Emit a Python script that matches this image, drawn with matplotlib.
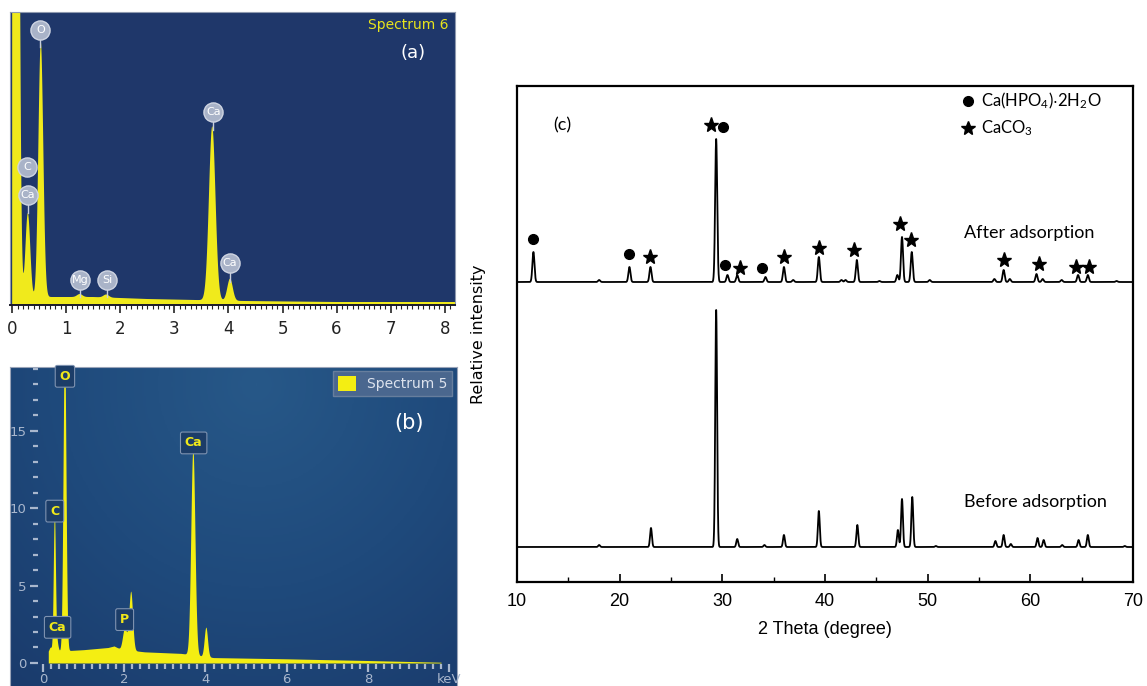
import numpy as np
import matplotlib
import matplotlib.pyplot as plt
from matplotlib.patches import Patch
from matplotlib.colors import LinearSegmentedColormap

matplotlib.use("Agg")

W, H = 1147, 686

# -----------------------------
# (a) EDS, Spectrum 6
# -----------------------------
a_peak_kev = [0.07, 0.29, 0.53, 1.25, 1.74, 3.70, 4.03]
a_peak_cnt = [1400, 88, 256, 3, 3, 174, 22]
a_peak_sig = [0.045, 0.045, 0.045, 0.05, 0.05, 0.06, 0.05]
a_bg_kev = [0.0, 0.6, 1.5, 2.5, 3.4, 4.3, 6.0, 8.2]
a_bg_cnt = [0, 8, 8, 6, 5, 4, 3, 3]
a_lbl_text = ["O", "C", "Ca", "Mg", "Si", "Ca", "Ca"]
a_lbl_kev = [0.52, 0.28, 0.29, 1.26, 1.76, 3.72, 4.02]
a_lbl_y = [275, 138, 110, 25, 25, 193, 42]
a_lbl_stem = [258, 138, 92, 8, 8, 175, 23]

# -----------------------------
# (b) EDS, Spectrum 5
# -----------------------------
b_peak_kev = [0.18, 0.28, 0.34, 0.53, 2.01, 2.16, 3.69, 4.01]
b_peak_cnt = [0.3, 8.9, 0.6, 20.0, 1.4, 3.8, 13.3, 1.9]
b_peak_sig = [0.03, 0.026, 0.03, 0.035, 0.05, 0.045, 0.05, 0.04]
b_bg_kev = [0.13, 0.2, 0.6, 1.0, 1.6, 1.75, 1.9, 2.5, 3.4, 4.2, 6.0, 8.0, 9.8]
b_bg_cnt = [0.7, 0.72, 0.8, 0.86, 1.0, 1.1, 0.9, 0.72, 0.62, 0.35, 0.27, 0.16, 0.05]
b_lbl_text = ["O", "C", "Ca", "P", "Ca"]
b_lbl_kev = [0.54, 0.29, 0.36, 2.01, 3.71]
b_lbl_y = [18.5, 9.8, 2.3, 2.8, 14.2]

# -----------------------------
# (c) XRD
# -----------------------------
after_pos = [11.6, 18.0, 20.95, 23.0, 29.4, 30.5, 31.45, 34.2, 36.0, 36.9, 39.4,
             41.6, 42.0, 43.1, 45.3, 47.05, 47.5, 48.45, 50.2, 56.5, 57.4, 58.0,
             60.6, 61.2, 63.05, 64.65, 65.6, 68.4]
after_int = [30, 2, 15, 15, 143, 7, 7, 5, 15, 2, 25,
             2, 2, 22, 1, 7, 45, 30, 2, 3, 12, 3,
             8, 3, 2, 7, 7, 1]
before_pos = [18.0, 23.05, 29.4, 31.45, 34.1, 36.0, 39.4, 43.15, 47.1, 47.5, 48.5,
              50.8, 56.6, 57.4, 58.1, 60.7, 61.3, 63.1, 64.7, 65.6, 69.2]
before_int = [2, 19, 237, 8, 2, 12, 36, 22, 17, 48, 50,
              1, 6, 12, 3, 9, 7, 2, 7, 12, 1]
after_offset = 300
before_offset = 35

circle_pos = [11.6, 20.95, 30.1, 30.3, 33.9]
circle_y = [343, 328, 455, 317, 314]
star_pos = [22.97, 28.86, 31.7, 36.0, 39.4, 42.8, 47.35, 48.4, 57.45, 60.86, 64.4, 65.7]
star_y = [325, 457, 314, 325, 334, 332, 358, 342, 322, 318, 315, 315]


def box(left, top, right, bottom):
    return [left / W, 1 - bottom / H, (right - left) / W, (bottom - top) / H]


def spectrum(x, pos, hgt, sig):
    y = np.zeros_like(x)
    for p, h, s in zip(pos, hgt, sig):
        y += h * np.exp(-0.5 * ((x - p) / s) ** 2)
    return y


fig = plt.figure(figsize=(W / 100, H / 100), dpi=100)

# ---------- panel (a) ----------
ax_a = fig.add_axes(box(10, 12, 455, 305))
ax_a.set_facecolor("#1f376a")
kev_a = np.linspace(0, 8.2, 3000)
cnt_a = np.interp(kev_a, a_bg_kev, a_bg_cnt) + spectrum(kev_a, a_peak_kev, a_peak_cnt, a_peak_sig)
ax_a.fill_between(kev_a, 0, cnt_a, color="#f0ea1c", lw=0)
ax_a.set_xlim(-0.04, 8.19)
ax_a.set_ylim(0, 293)
ax_a.set_xticks(range(0, 9))
ax_a.set_xticks(np.arange(0, 8.2, 0.1), minor=True)
ax_a.set_yticks([])
ax_a.tick_params(axis="x", which="major", direction="out", length=6, width=1.2,
                 labelsize=12, pad=5, colors="#222222")
ax_a.tick_params(axis="x", which="minor", direction="out", length=3, width=0.8, colors="#222222")
for s in ["top", "right", "left"]:
    ax_a.spines[s].set_color("#8f9ab0")
    ax_a.spines[s].set_linewidth(0.8)
ax_a.spines["bottom"].set_color("#1a1a2a")
ax_a.spines["bottom"].set_linewidth(1.4)
for t, x, y, st in zip(a_lbl_text, a_lbl_kev, a_lbl_y, a_lbl_stem):
    ax_a.plot([x, x], [st, y], color="#c8cfdc", lw=1, zorder=3)
    ax_a.scatter([x], [y], s=190, color="#a9b3c8", edgecolors="#cfd5e2", lw=1, zorder=4)
    ax_a.text(x, y, t, color="white", fontsize=8, ha="center", va="center", zorder=5)
ax_a.text(0.985, 0.955, "Spectrum 6", transform=ax_a.transAxes, color="#e8e41c",
          fontsize=10, ha="right", va="center", family=["Liberation Sans Narrow", "DejaVu Sans"])
ax_a.text(0.905, 0.86, "(a)", transform=ax_a.transAxes, color="white",
          fontsize=13, ha="center", va="center")

# ---------- panel (b) ----------
ax_bg = fig.add_axes(box(10, 367, 457, 700))
gx, gy = np.meshgrid(np.linspace(0, 1, 300), np.linspace(0, 1, 220))
dist = np.sqrt(((gx - 0.55) * 1.4) ** 2 + (gy - 0.05) ** 2)
cmap = LinearSegmentedColormap.from_list("eds", ["#275888", "#1f4a7c", "#1a3a6b"])
ax_bg.imshow(dist, cmap=cmap, aspect="auto", extent=[0, 1, 0, 1], origin="upper")
ax_bg.set_xticks([])
ax_bg.set_yticks([])
for s in ax_bg.spines.values():
    s.set_color("#9aa4b8")
    s.set_linewidth(0.8)

ax_b = fig.add_axes(box(38, 367, 452, 664))
ax_b.set_facecolor("none")
kev_b = np.linspace(0.13, 9.8, 3000)
cnt_b = np.interp(kev_b, b_bg_kev, b_bg_cnt) + spectrum(kev_b, b_peak_kev, b_peak_cnt, b_peak_sig)
ax_b.fill_between(kev_b, 0, cnt_b, color="#f4ee12", lw=0)
ax_b.set_xlim(-0.123, 10.07)
ax_b.set_ylim(-0.065, 19.1)
for s in ax_b.spines.values():
    s.set_visible(False)
ax_b.set_xticks(range(0, 11, 2), ["0", "2", "4", "6", "8", "keV"])
ax_b.set_xticks(np.arange(0, 10.01, 0.2), minor=True)
ax_b.set_yticks([0, 5, 10, 15])
ax_b.set_yticks(range(0, 20), minor=True)
ax_b.tick_params(which="major", length=6, width=1.6, colors="#a9b7cd", labelsize=9.5, pad=2)
ax_b.tick_params(axis="x", which="major", pad=0.5)
ax_b.tick_params(which="minor", length=3.5, width=1.6, colors="#a9b7cd")
for t, x, y in zip(b_lbl_text, b_lbl_kev, b_lbl_y):
    ax_b.text(x, y, t, color="#f0e81a", fontsize=9, fontweight="bold", ha="center", va="center",
              bbox=dict(boxstyle="round,pad=0.35,rounding_size=0.15", fc="#1c3d68", ec="#7e92b0", lw=0.8))
ax_b.legend(handles=[Patch(facecolor="#f4ee12", edgecolor="none", label="Spectrum 5")],
            loc="upper right", bbox_to_anchor=(1.0, 0.987), borderaxespad=0, fontsize=10,
            frameon=True, fancybox=False, facecolor="#4d6990", edgecolor="#6a819f", framealpha=0.95,
            labelcolor="#dde3ee", handlelength=1.3, handleheight=1.3, borderpad=0.35)
ax_b.text(0.895, 0.81, "(b)", transform=ax_b.transAxes, color="white", fontsize=15,
          ha="center", va="center")

# ---------- panel (c) ----------
ax_c = fig.add_axes(box(517, 86, 1133, 582))
theta = np.linspace(10, 70, 6001)
after = after_offset + spectrum(theta, after_pos, after_int, [0.1] * len(after_pos))
before = before_offset + spectrum(theta, before_pos, before_int, [0.09] * len(before_pos))
ax_c.plot(theta, after, color="black", lw=1.3)
ax_c.plot(theta, before, color="black", lw=1.3)
ax_c.plot(circle_pos, circle_y, "o", color="black", ms=7, ls="none")
ax_c.plot(star_pos, star_y, "*", color="black", ms=11, ls="none")
ax_c.set_xlim(10, 70)
ax_c.set_ylim(0, 496)
ax_c.set_yticks([])
ax_c.set_xticks(range(10, 71, 10))
ax_c.set_xticks(range(15, 70, 10), minor=True)
ax_c.tick_params(axis="x", which="major", direction="in", length=6, width=1.2, labelsize=13, pad=8)
ax_c.tick_params(axis="x", which="minor", direction="in", length=3.5, width=1.0)
for lab in ax_c.get_xticklabels():
    lab.set_family("Liberation Sans")
for s in ax_c.spines.values():
    s.set_linewidth(1.6)
ax_c.set_xlabel("2 Theta (degree)", fontsize=13, family="Liberation Sans", labelpad=8)
ax_c.set_ylabel("Relative intensity", fontsize=11.5, family="DejaVu Sans", labelpad=22)

cal = ["Lato", "DejaVu Sans"]
plt.rcParams["mathtext.fontset"] = "custom"
plt.rcParams["mathtext.rm"] = "Lato"
plt.rcParams["mathtext.default"] = "regular"
ax_c.text(14.4, 457, "(c)", fontsize=13, family=cal, ha="center", va="center")
ax_c.text(59.9, 349, "After adsorption", fontsize=13, family=cal, ha="center", va="center")
ax_c.text(60.5, 80, "Before adsorption", fontsize=13, family=cal, ha="center", va="center")
ax_c.plot([53.9], [481], "o", color="black", ms=7)
ax_c.plot([53.9], [454], "*", color="black", ms=10)
ax_c.text(55.2, 481, r"Ca(HPO$_4$)$\cdot$2H$_2$O", fontsize=12, family=cal, va="center")
ax_c.text(55.2, 454, r"CaCO$_3$", fontsize=12, family=cal, va="center")

fig.savefig("out.png", dpi=100)
